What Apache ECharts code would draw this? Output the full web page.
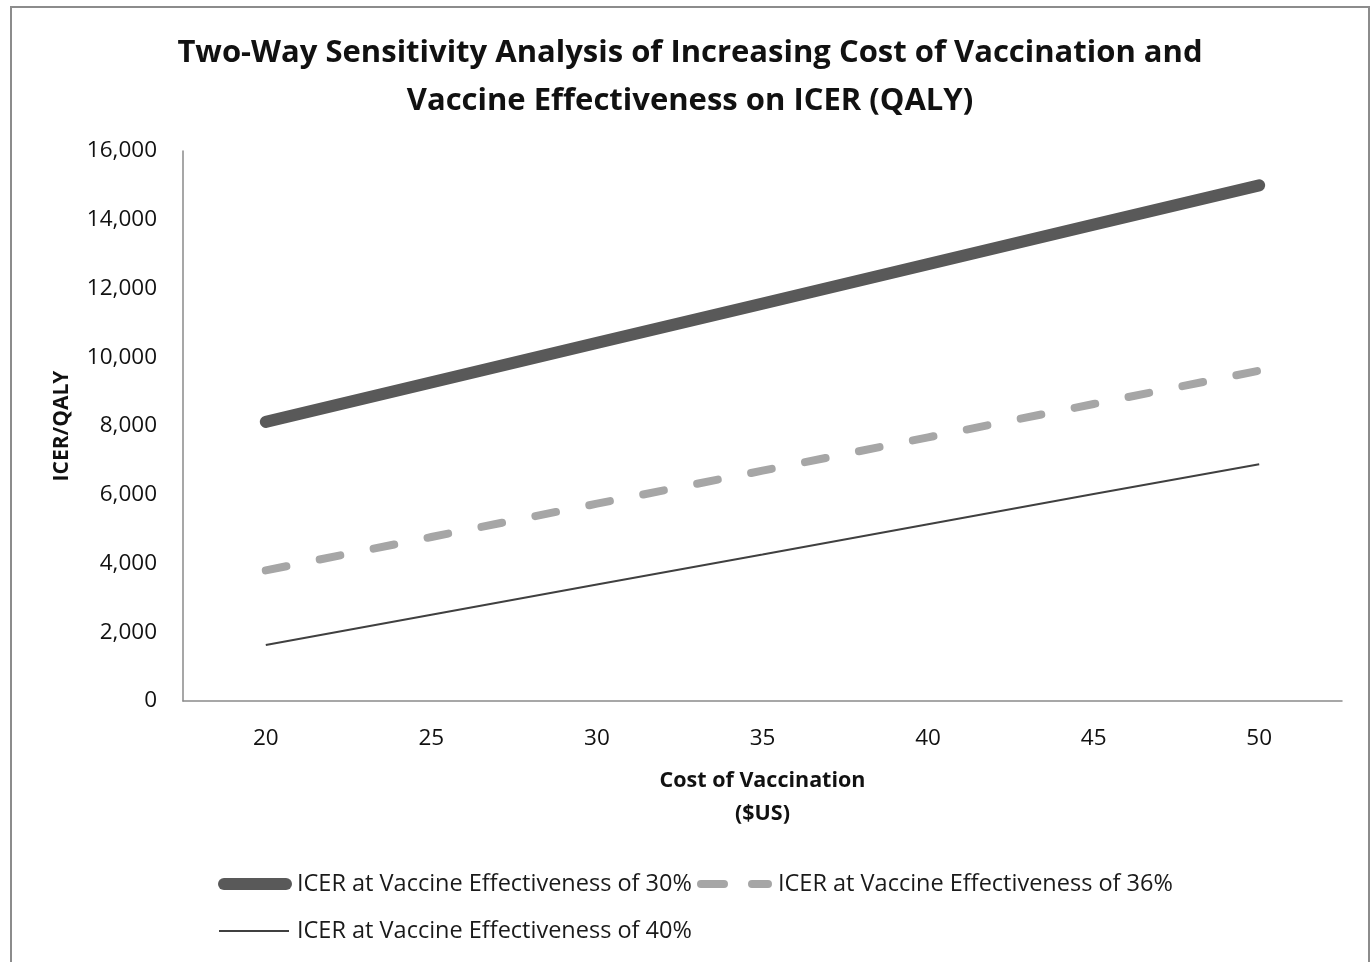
<!DOCTYPE html>
<html>
<head>
<meta charset="utf-8">
<script src="https://cdn.jsdelivr.net/npm/echarts@6/dist/echarts.min.js"></script>
<style>
html,body{margin:0;padding:0;background:#fff;}
#chart{width:1372px;height:962px;}
</style>
</head>
<body>
<div id="chart"></div>
<script>
const categories = ['20', '25', '30', '35', '40', '45', '50'];
const seriesNames = [
  'ICER at Vaccine Effectiveness of 30%',
  'ICER at Vaccine Effectiveness of 36%',
  'ICER at Vaccine Effectiveness of 40%'
];
const icer30 = [8120, 9270, 10420, 11560, 12710, 13860, 15000];
const icer36 = [3800, 4770, 5740, 6700, 7670, 8640, 9610];
const icer40 = [1630, 2510, 3390, 4260, 5140, 6020, 6890];

const FONT = 'Open Sans';
const chart = echarts.init(document.getElementById('chart'), null, {renderer: 'canvas'});

function legendText(padLeft) {
  return {fontFamily: FONT, fontSize: 23.5, color: '#1a1a1a', padding: [0, 0, 0, padLeft]};
}
const hiddenSymbol = {opacity: 0};

chart.setOption({
  backgroundColor: '#ffffff',
  animation: false,
  title: {
    text: 'Two-Way Sensitivity Analysis of Increasing Cost of Vaccination and\nVaccine Effectiveness on ICER (QALY)',
    left: 685,
    top: 24,
    textAlign: 'center',
    textStyle: {fontFamily: FONT, fontWeight: 'bold', fontSize: 31, lineHeight: 48, color: '#111'}
  },
  graphic: [{
    type: 'rect',
    shape: {x: 11, y: 7, width: 1358, height: 980},
    style: {fill: 'none', stroke: '#8c8c8c', lineWidth: 2},
    silent: true
  }],
  legend: [
    {data: [seriesNames[0]], left: 218, top: 872, padding: 0, itemWidth: 62, itemHeight: 24,
     textStyle: legendText(6), itemStyle: hiddenSymbol,
     lineStyle: {width: 12, cap: 'round', color: '#595959'}},
    {data: [seriesNames[1]], left: 697, top: 872, padding: 0, itemWidth: 67, itemHeight: 24,
     textStyle: legendText(5), itemStyle: hiddenSymbol,
     lineStyle: {width: 8, type: [23, 28], cap: 'round', color: '#a6a6a6'}},
    {data: [seriesNames[2]], left: 218, top: 919, padding: 0, itemWidth: 70, itemHeight: 24,
     textStyle: legendText(3), itemStyle: hiddenSymbol,
     lineStyle: {width: 2, color: '#404040'}}
  ],
  grid: {left: 183, right: 30, top: 151, bottom: 261, containLabel: false},
  xAxis: {
    type: 'category',
    data: categories,
    boundaryGap: true,
    axisLine: {lineStyle: {color: '#8a8a8a', width: 1.5}},
    axisTick: {show: false},
    axisLabel: {fontFamily: FONT, fontSize: 22.5, color: '#111', margin: 26},
    name: 'Cost of Vaccination\n($US)',
    nameLocation: 'middle',
    nameGap: 63,
    nameTextStyle: {fontFamily: FONT, fontWeight: 'bold', fontSize: 21.5, lineHeight: 33, color: '#111'}
  },
  yAxis: {
    type: 'value',
    min: 0,
    max: 16000,
    interval: 2000,
    axisLine: {show: true, lineStyle: {color: '#8a8a8a', width: 1.5}},
    axisTick: {show: false},
    splitLine: {show: false},
    axisLabel: {
      fontFamily: FONT, fontSize: 22.5, color: '#111', margin: 26,
      formatter: v => v.toLocaleString('en-US')
    },
    name: 'ICER/QALY',
    nameLocation: 'middle',
    nameGap: 110,
    nameRotate: 90,
    nameTextStyle: {fontFamily: FONT, fontWeight: 'bold', fontSize: 21, color: '#111'}
  },
  series: [
    {
      name: seriesNames[0], type: 'line', data: icer30, symbol: 'none',
      itemStyle: {color: '#595959'},
      lineStyle: {color: '#595959', width: 12, cap: 'round', join: 'round'}
    },
    {
      name: seriesNames[1], type: 'line', data: icer36, symbol: 'none',
      itemStyle: {color: '#a6a6a6'},
      lineStyle: {color: '#a6a6a6', width: 8, type: [21, 34], cap: 'round', join: 'round'}
    },
    {
      name: seriesNames[2], type: 'line', data: icer40, symbol: 'none',
      itemStyle: {color: '#404040'},
      lineStyle: {color: '#404040', width: 2}
    }
  ]
});
</script>
</body>
</html>
